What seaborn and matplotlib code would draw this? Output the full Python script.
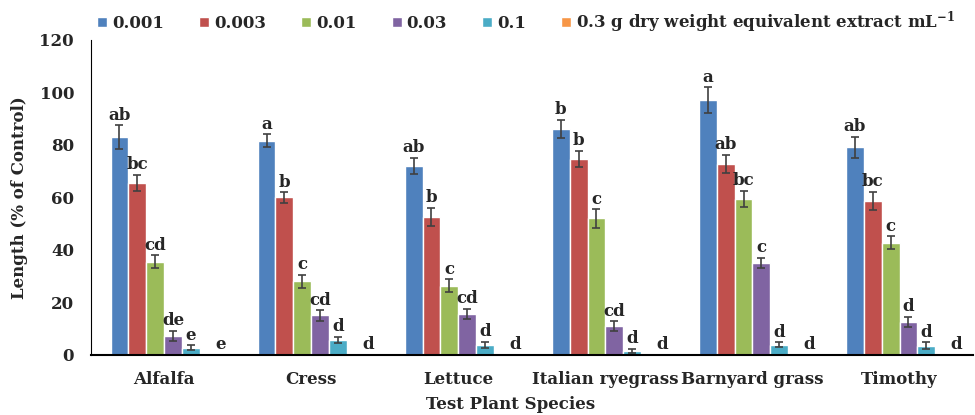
import numpy as np
import pandas as pd
import seaborn as sns
import matplotlib.pyplot as plt

species = ['Alfalfa', 'Cress', 'Lettuce', 'Italian ryegrass', 'Barnyard grass', 'Timothy']
doses = ['0.001', '0.003', '0.01', '0.03', '0.1', '0.3 g dry weight equivalent extract mL$^{-1}$']

# length (% of control), one list per dose, in species order
len_0001 = [83.0, 81.5, 72.0, 86.0, 97.0, 79.0]
len_0003 = [65.5, 60.0, 52.5, 74.7, 72.8, 58.6]
len_001 = [35.4, 28.0, 26.3, 52.0, 59.4, 42.7]
len_003 = [7.2, 15.0, 15.6, 11.0, 35.0, 12.5]
len_01 = [2.7, 5.7, 3.8, 1.5, 3.8, 3.5]
len_03 = [0, 0, 0, 0, 0, 0]

err_0001 = [4.5, 2.5, 3.0, 3.5, 5.0, 4.0]
err_0003 = [3.0, 2.0, 3.5, 3.0, 3.5, 3.5]
err_001 = [2.5, 2.5, 2.5, 3.5, 3.0, 2.5]
err_003 = [2.0, 2.0, 2.0, 1.8, 2.0, 2.0]
err_01 = [1.0, 1.2, 1.2, 0.7, 1.0, 1.2]
err_03 = [0, 0, 0, 0, 0, 0]

letters = [
    ['ab', 'bc', 'cd', 'de', 'e', 'e'],
    ['a', 'b', 'c', 'cd', 'd', 'd'],
    ['ab', 'b', 'c', 'cd', 'd', 'd'],
    ['b', 'b', 'c', 'cd', 'd', 'd'],
    ['a', 'ab', 'bc', 'c', 'd', 'd'],
    ['ab', 'bc', 'c', 'd', 'd', 'd'],
]

vals = [len_0001, len_0003, len_001, len_003, len_01, len_03]
errs = [err_0001, err_0003, err_001, err_003, err_01, err_03]

rows = []
for d, v, e in zip(doses, vals, errs):
    for i, s in enumerate(species):
        rows.append({'Species': s, 'Dose': d, 'Length': v[i], 'Err': e[i]})
df = pd.DataFrame(rows)

colors = ['#4F81BD', '#C0504D', '#9BBB59', '#8064A2', '#4BACC6', '#F79646']

sns.set_style('white')
plt.rcParams['font.family'] = ['DejaVu Serif']
plt.rcParams['font.weight'] = 'bold'
plt.rcParams['mathtext.fontset'] = 'dejavuserif'

fs = 12
fig = plt.figure(figsize=(9.75, 4.15), dpi=100)
ax = fig.add_axes([0.093, 0.145, 0.905, 0.759])

group_w = 0.73
sns.barplot(data=df, x='Species', y='Length', hue='Dose', palette=colors,
            width=group_w, errorbar=None, saturation=1, ax=ax, legend=True)

# error bars and letters
bw = group_w / len(doses)
for j in range(len(doses)):
    for i in range(len(species)):
        x = i - group_w / 2 + bw * (j + 0.5)
        h = vals[j][i]
        e = errs[j][i]
        if e > 0:
            ax.errorbar(x, h, yerr=e, fmt='none', ecolor='#404040', capsize=3,
                        elinewidth=1.2, capthick=1.2)
        if j == len(doses) - 1:
            x += 0.08  # zero-bar labels sit a bit to the right
        ax.text(x, h + e + 0.6, letters[i][j], ha='center', va='bottom',
                fontsize=fs, fontweight='bold')

ax.set_ylim(0, 120)
ax.set_yticks(range(0, 121, 20))
ax.set_xlim(-0.5, 5.5)
ax.set_ylabel('Length (% of Control)', fontsize=fs, fontweight='bold', labelpad=8)
ax.set_xlabel('Test Plant Species', fontsize=fs, fontweight='bold')
ax.xaxis.set_label_coords(0.476, -0.13)
ax.tick_params(axis='y', labelsize=fs, length=0, pad=12)
ax.tick_params(axis='x', labelsize=fs, length=0, pad=12)
for lab in ax.get_xticklabels() + ax.get_yticklabels():
    lab.set_fontweight('bold')
sns.despine(ax=ax, top=True, right=True)
ax.spines['left'].set_color('black')
ax.spines['bottom'].set_color('black')
ax.spines['bottom'].set_linewidth(1.5)

handles, labels = ax.get_legend_handles_labels()
ax.get_legend().remove()
fig.legend(handles, labels, loc='upper left', bbox_to_anchor=(0.088, 1.005), ncol=6,
           frameon=False, handlelength=0.6, handleheight=0.6,
           handletextpad=0.3, columnspacing=2.1, borderaxespad=0.3,
           prop={'weight': 'bold', 'size': fs})

fig.savefig('out.png', dpi=100)
